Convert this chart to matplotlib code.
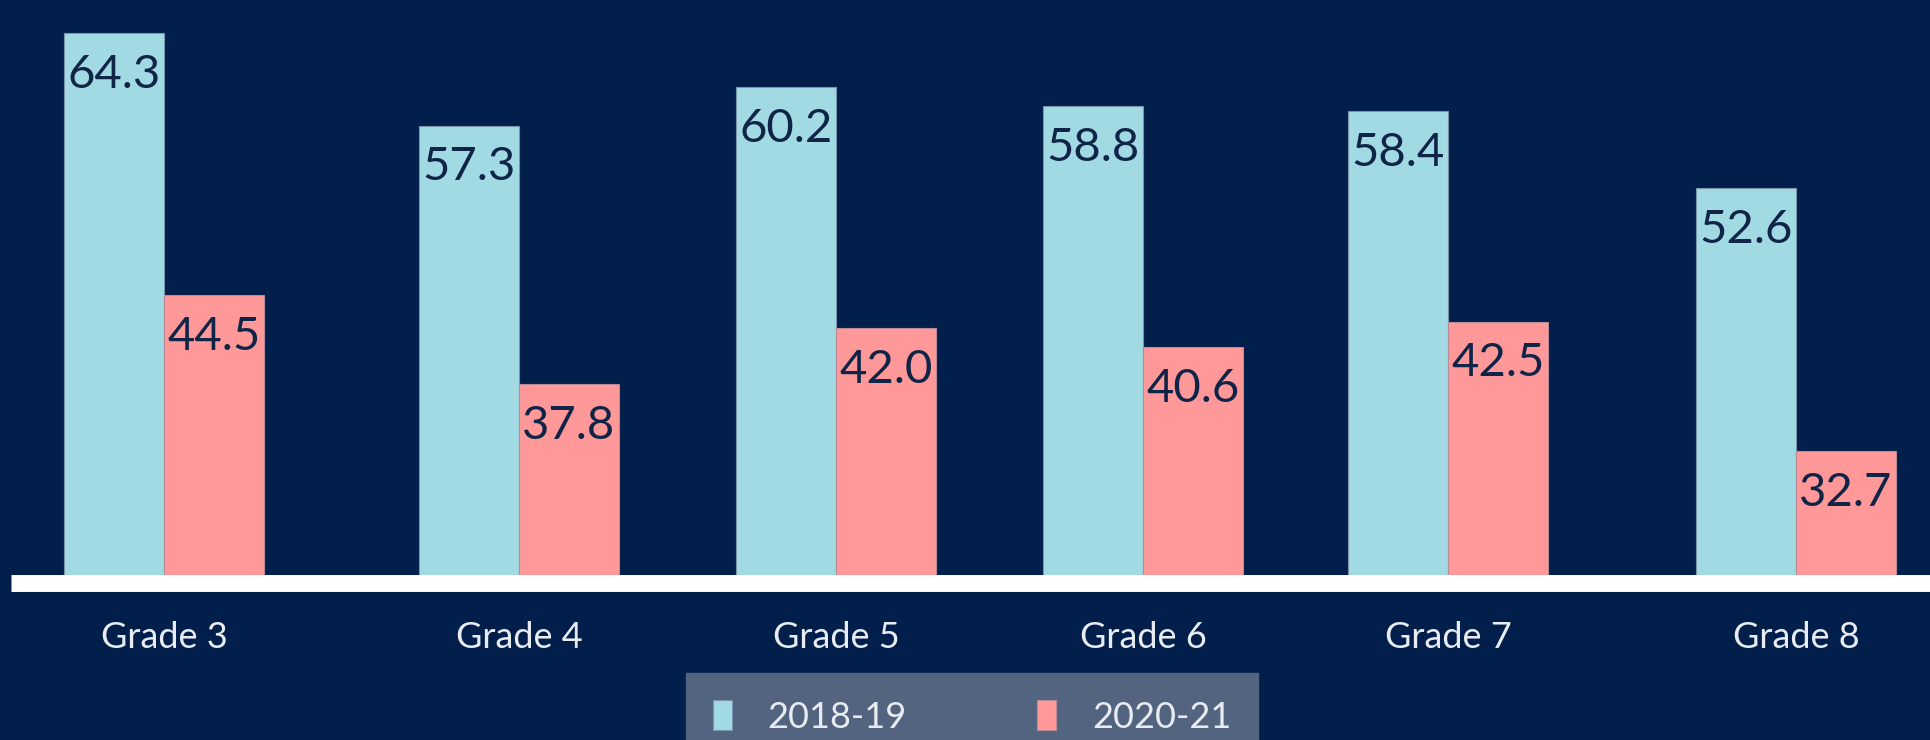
import matplotlib.pyplot as plt
import numpy as np

# values
grades = ["Grade 3", "Grade 4", "Grade 5", "Grade 6", "Grade 7", "Grade 8"]
series_names = ["2018-19", "2020-21"]
vals_2018 = [64.3, 57.3, 60.2, 58.8, 58.4, 52.6]
vals_2020 = [44.5, 37.8, 42.0, 40.6, 42.5, 32.7]

# layout: group centres are not evenly spaced in the original
group_x = np.array([1.53, 5.08, 8.25, 11.32, 14.37, 17.85])
bar_w = 1.0

bg = "#011f4a"
blue = "#a2dae3"
pink = "#ff9999"
label_col = "#102448"

plt.rcParams["font.family"] = ["Lato", "DejaVu Sans"]

fig = plt.figure(figsize=(19.31, 7.40), dpi=100, facecolor=bg)
ax = fig.add_axes([11 / 1931, 1 - 582.5 / 740, 1 - 11 / 1931, 582.5 / 740])
ax.set_facecolor(bg)

b1 = ax.bar(group_x - bar_w / 2, vals_2018, bar_w, color=blue,
            edgecolor="#7a93aa", linewidth=0.8, label=series_names[0])
b2 = ax.bar(group_x + bar_w / 2, vals_2020, bar_w, color=pink,
            edgecolor="#b98a98", linewidth=0.8, label=series_names[1])

for bars, vals in ((b1, vals_2018), (b2, vals_2020)):
    for rect, v in zip(bars, vals):
        ax.annotate(f"{v:.1f}", (rect.get_x() + rect.get_width() / 2, v),
                    xytext=(0, -30), textcoords="offset points",
                    ha="center", va="center", fontsize=34, color=label_col)

ax.set_xlim(0, 19.2)
ax.set_ylim(22.8, 66.8)

for s in ("top", "left", "right"):
    ax.spines[s].set_visible(False)
ax.spines["bottom"].set_color("white")
ax.spines["bottom"].set_linewidth(12.2)
ax.spines["bottom"].set_capstyle("butt")

ax.set_yticks([])
ax.set_xticks(group_x)
ax.set_xticklabels(grades, fontsize=26, color="#e8ecf2")
ax.tick_params(axis="x", length=0, pad=28)

leg = fig.legend(loc="lower center", bbox_to_anchor=(972 / 1931, -0.028),
                 ncol=2, fontsize=26, frameon=True, fancybox=False,
                 handlelength=0.52, handleheight=0.9, handletextpad=1.0,
                 columnspacing=3.6, borderpad=0.75, borderaxespad=0)
leg.get_frame().set_facecolor("#52647f")
leg.get_frame().set_edgecolor("#52647f")
leg.get_frame().set_alpha(1)
for t in leg.get_texts():
    t.set_color("#e8ecf2")

fig.savefig("out.png", dpi=100, facecolor=bg)
